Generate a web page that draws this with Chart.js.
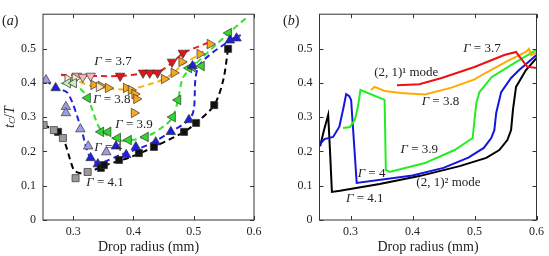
<!DOCTYPE html>
<html>
<head>
<meta charset="utf-8">
<script src="https://cdn.jsdelivr.net/npm/chart.js@4.4.0/dist/chart.umd.min.js"></script>
<style>
  html, body { margin: 0; padding: 0; background: #fff; }
  #wrap { position: relative; width: 549px; height: 256px; }
  canvas { position: absolute; top: 0; }
  #chartA { left: 0; }
  #chartB { left: 275px; }
</style>
</head>
<body>
<div id="wrap">
  <canvas id="chartA" width="275" height="256"></canvas>
  <canvas id="chartB" width="274" height="256"></canvas>
</div>
<script>
// tick labels (both panels)
const xTicks = [0.3, 0.4, 0.5, 0.6];
const yTicks = [0, 0.1, 0.2, 0.3, 0.4, 0.5];

// ---- panel (a): measured points + dashed guide lines ----
// Gamma = 3.7
const a37LineR = [0.28, 0.33, 0.38, 0.42, 0.44, 0.465, 0.483, 0.523];
const a37LineT = [0.423, 0.42, 0.42, 0.428, 0.43, 0.46, 0.487, 0.516];
const a37PaleR = [0.306, 0.316, 0.329];
const a37PaleT = [0.42, 0.417, 0.42];
const a37R = [0.378, 0.416, 0.427, 0.44, 0.464, 0.482];
const a37T = [0.42, 0.429, 0.429, 0.429, 0.461, 0.487];

// Gamma = 3.8
const a38LineR = [0.28, 0.305, 0.329, 0.363, 0.396, 0.429, 0.451, 0.467, 0.48, 0.51, 0.534];
const a38LineT = [0.426, 0.408, 0.391, 0.382, 0.382, 0.397, 0.411, 0.429, 0.452, 0.484, 0.522];
const a38PaleR = [0.291, 0.303, 0.343];
const a38PaleT = [0.411, 0.413, 0.388];
const a38R = [0.334, 0.346, 0.358, 0.388, 0.396, 0.402, 0.405, 0.401, 0.451, 0.467, 0.48, 0.51, 0.527];
const a38T = [0.394, 0.391, 0.385, 0.385, 0.379, 0.367, 0.353, 0.312, 0.411, 0.429, 0.461, 0.484, 0.513];

// Gamma = 3.9
const a39LineR = [0.28, 0.308, 0.324, 0.346, 0.374, 0.396, 0.424, 0.453, 0.465, 0.474, 0.482, 0.498, 0.558, 0.591];
const a39LineT = [0.399, 0.388, 0.356, 0.262, 0.233, 0.233, 0.245, 0.277, 0.3, 0.35, 0.414, 0.446, 0.545, 0.595];
const a39PaleR = [0.291, 0.301];
const a39PaleT = [0.399, 0.399];
const a39R = [0.324, 0.346, 0.358, 0.374, 0.392, 0.42, 0.465, 0.474, 0.492, 0.498, 0.513, 0.558];
const a39T = [0.356, 0.257, 0.257, 0.239, 0.233, 0.242, 0.3, 0.35, 0.443, 0.446, 0.449, 0.545];

// Gamma = 4
const a40LineR = [0.255, 0.271, 0.291, 0.313, 0.326, 0.341, 0.379, 0.424, 0.462, 0.492, 0.5, 0.508, 0.561, 0.578];
const a40LineT = [0.408, 0.385, 0.37, 0.268, 0.19, 0.166, 0.19, 0.219, 0.257, 0.292, 0.321, 0.446, 0.525, 0.539];
const a40PaleR = [0.255, 0.288, 0.288, 0.312, 0.325, 0.355];
const a40PaleT = [0.408, 0.33, 0.312, 0.265, 0.215, 0.198];
const a40R = [0.271, 0.329, 0.341, 0.371, 0.388, 0.404, 0.437, 0.462, 0.492, 0.498, 0.56, 0.571];
const a40T = [0.385, 0.181, 0.163, 0.215, 0.19, 0.213, 0.227, 0.257, 0.292, 0.449, 0.524, 0.53];

// Gamma = 4.1
const a41LineR = [0.251, 0.268, 0.283, 0.301, 0.31, 0.324, 0.346, 0.396, 0.434, 0.484, 0.504, 0.534, 0.549, 0.557];
const a41LineT = [0.277, 0.262, 0.239, 0.146, 0.137, 0.137, 0.155, 0.184, 0.213, 0.257, 0.283, 0.335, 0.408, 0.499];
const a41PaleR = [0.251, 0.268, 0.283, 0.304, 0.324];
const a41PaleT = [0.277, 0.262, 0.239, 0.122, 0.14];
const a41R = [0.275, 0.346, 0.351, 0.376, 0.409, 0.434, 0.484, 0.504, 0.534, 0.557];
const a41T = [0.257, 0.152, 0.16, 0.175, 0.195, 0.213, 0.257, 0.283, 0.335, 0.499];

// ---- panel (b): simulated curves ----
const b37R = [0.375, 0.411, 0.447, 0.5, 0.548, 0.567, 0.572, 0.585, 0.6];
const b37T = [0.393, 0.396, 0.414, 0.446, 0.481, 0.49, 0.478, 0.447, 0.443];
const b38R = [0.333, 0.339, 0.355, 0.381, 0.42, 0.463, 0.5, 0.519, 0.553, 0.583, 0.588, 0.591, 0.6];
const b38T = [0.379, 0.388, 0.376, 0.37, 0.366, 0.386, 0.41, 0.43, 0.463, 0.49, 0.499, 0.481, 0.488];
const b39R = [0.288, 0.299, 0.307, 0.312, 0.316, 0.355, 0.357, 0.363, 0.42, 0.468, 0.497, 0.5, 0.503, 0.508, 0.528, 0.572, 0.6];
const b39T = [0.268, 0.271, 0.292, 0.33, 0.379, 0.35, 0.146, 0.14, 0.166, 0.204, 0.239, 0.291, 0.341, 0.373, 0.417, 0.466, 0.496];
const b40R = [0.25, 0.258, 0.272, 0.282, 0.289, 0.293, 0.298, 0.301, 0.31, 0.4, 0.45, 0.49, 0.515, 0.527, 0.532, 0.535, 0.543, 0.559, 0.572, 0.6];
const b40T = [0.219, 0.236, 0.242, 0.272, 0.33, 0.367, 0.361, 0.35, 0.108, 0.13, 0.152, 0.182, 0.21, 0.239, 0.262, 0.312, 0.373, 0.414, 0.437, 0.481];
const b41R = [0.251, 0.257, 0.264, 0.267, 0.27, 0.283, 0.347, 0.411, 0.476, 0.519, 0.54, 0.553, 0.559, 0.562, 0.567, 0.583, 0.6];
const b41T = [0.215, 0.26, 0.306, 0.2, 0.082, 0.085, 0.105, 0.128, 0.157, 0.181, 0.204, 0.233, 0.262, 0.321, 0.388, 0.437, 0.472];

const serif = 'Liberation Serif';
const zip = (xs, ys) => xs.map((v, i) => ({ x: v, y: ys[i] }));

function guide(xs, ys, color, solid) {
  return {
    data: zip(xs, ys), showLine: true, borderColor: color, borderWidth: 2,
    borderDash: solid ? [] : [6, 4], pointRadius: 0, tension: solid ? 0 : 0.3, order: 2
  };
}
function marks(xs, ys, fill, style, rot, r) {
  return {
    data: zip(xs, ys), showLine: false, pointStyle: style, rotation: rot,
    pointRadius: r, pointBackgroundColor: fill, pointBorderColor: '#333',
    pointBorderWidth: 0.7, order: 1
  };
}

function drawGammaLabel(ctx, x, y, txt) {
  ctx.font = 'italic 13px ' + serif;
  const g = ctx.measureText('\u0393').width;
  ctx.font = '13px ' + serif;
  const w = g + ctx.measureText(txt).width;
  ctx.textBaseline = 'middle';
  ctx.textAlign = 'left';
  ctx.font = 'italic 13px ' + serif;
  ctx.fillText('\u0393', x - w / 2, y);
  ctx.font = '13px ' + serif;
  ctx.fillText(txt, x - w / 2 + g, y);
}

const framePlugin = {
  id: 'frame',
  afterDraw(chart, args, opts) {
    const { ctx, chartArea: a, scales: { x, y } } = chart;
    ctx.save();
    ctx.strokeStyle = '#333';
    ctx.lineWidth = 1;
    ctx.strokeRect(a.left, a.top, a.right - a.left, a.bottom - a.top);
    ctx.beginPath();
    x.ticks.forEach(t => {
      const p = Math.round(x.getPixelForValue(t.value)) + 0.5;
      ctx.moveTo(p, a.bottom); ctx.lineTo(p, a.bottom - 4);
      ctx.moveTo(p, a.top); ctx.lineTo(p, a.top + 4);
    });
    y.ticks.forEach(t => {
      const p = Math.round(y.getPixelForValue(t.value)) + 0.5;
      ctx.moveTo(a.left, p); ctx.lineTo(a.left + 4, p);
      ctx.moveTo(a.right, p); ctx.lineTo(a.right - 4, p);
    });
    ctx.stroke();

    ctx.fillStyle = '#222';
    (opts.labels || []).forEach(l => {
      const px = x.getPixelForValue(l.r), py = y.getPixelForValue(l.t);
      if (l.gamma) {
        drawGammaLabel(ctx, px, py, l.text);
      } else {
        ctx.font = '13px ' + serif;
        ctx.textAlign = 'center';
        ctx.textBaseline = 'middle';
        ctx.fillText(l.text, px, py);
      }
    });

    // panel letter
    ctx.textBaseline = 'middle';
    ctx.textAlign = 'left';
    let lx = opts.letterX;
    ctx.font = '14px ' + serif;
    ctx.fillText('(', lx, 21); lx += ctx.measureText('(').width;
    ctx.font = 'italic 14px ' + serif;
    ctx.fillText(opts.letter, lx, 21); lx += ctx.measureText(opts.letter).width;
    ctx.font = '14px ' + serif;
    ctx.fillText(')', lx, 21);

    if (opts.yTitle) {
      ctx.translate(10, (a.top + a.bottom) / 2);
      ctx.rotate(-Math.PI / 2);
      const parts = [['italic 14px ', 't', 0], ['italic 9px ', 'C', 3], ['14px ', '/', 0], ['italic 14px ', 'T', 0]];
      let total = 0;
      parts.forEach(p => { ctx.font = p[0] + serif; total += ctx.measureText(p[1]).width; });
      let cx = -total / 2;
      parts.forEach(p => {
        ctx.font = p[0] + serif;
        ctx.fillText(p[1], cx, p[2]);
        cx += ctx.measureText(p[1]).width;
      });
    }
    ctx.restore();
  }
};

function makeOptions(yWidth, rightPad, frameOpts) {
  const tickFont = { family: serif, size: 12 };
  return {
    responsive: false,
    animation: false,
    layout: { padding: { top: 14, right: rightPad, left: 0, bottom: 0 } },
    plugins: { legend: { display: false }, tooltip: { enabled: false }, frame: frameOpts },
    scales: {
      x: {
        type: 'linear', min: 0.25, max: 0.6,
        afterBuildTicks: s => { s.ticks = xTicks.map(v => ({ value: v })); },
        afterFit: s => { s.height = 36; },
        grid: { display: false, drawTicks: false },
        border: { display: false },
        ticks: { padding: 5, color: '#222', font: tickFont, callback: v => String(v) },
        title: { display: true, text: 'Drop radius (mm)', color: '#222',
                 font: { family: serif, size: 14 }, padding: { top: 0, bottom: 0 } }
      },
      y: {
        type: 'linear', min: 0, max: 0.6,
        afterBuildTicks: s => { s.ticks = yTicks.map(v => ({ value: v })); },
        afterFit: s => { s.width = yWidth; },
        grid: { display: false, drawTicks: false },
        border: { display: false },
        ticks: { padding: 7, color: '#222', font: tickFont, callback: v => String(v) }
      }
    }
  };
}

new Chart(document.getElementById('chartA'), {
  type: 'scatter',
  data: {
    datasets: [
      marks(a41PaleR, a41PaleT, '#9a9a9a', 'rect', 0, 5),
      marks(a41R, a41T, '#111111', 'rect', 0, 5),
      marks(a40PaleR, a40PaleT, '#9d9de6', 'triangle', 0, 5.5),
      marks(a40R, a40T, '#1e1ee6', 'triangle', 0, 5.5),
      marks(a39PaleR, a39PaleT, '#c4f0c4', 'triangle', 270, 5.5),
      marks(a39R, a39T, '#2fd82f', 'triangle', 270, 5.5),
      marks(a38PaleR, a38PaleT, '#fde6bf', 'triangle', 90, 5.5),
      marks(a38R, a38T, '#f5a820', 'triangle', 90, 5.5),
      marks(a37PaleR, a37PaleT, '#f4baba', 'triangle', 180, 5.5),
      marks(a37R, a37T, '#e81414', 'triangle', 180, 5.5),
      guide(a37LineR, a37LineT, '#e62020'),
      guide(a38LineR, a38LineT, '#f7b21a'),
      guide(a39LineR, a39LineT, '#33e033'),
      guide(a40LineR, a40LineT, '#1f1fe0'),
      guide(a41LineR, a41LineT, '#000000')
    ]
  },
  options: makeOptions(43, 21, {
    letter: 'a', letterX: 2, yTitle: true,
    labels: [
      { gamma: true, text: ' = 3.7', r: 0.366, t: 0.461 },
      { gamma: true, text: ' = 3.8', r: 0.364, t: 0.35 },
      { gamma: true, text: ' = 3.9', r: 0.401, t: 0.277 },
      { gamma: true, text: ' = 4', r: 0.358, t: 0.21 },
      { gamma: true, text: ' = 4.1', r: 0.353, t: 0.108 }
    ]
  }),
  plugins: [framePlugin]
});

new Chart(document.getElementById('chartB'), {
  type: 'scatter',
  data: {
    datasets: [
      guide(b37R, b37T, '#ee1111', true),
      guide(b38R, b38T, '#ffaa00', true),
      guide(b39R, b39T, '#22ee22', true),
      guide(b40R, b40T, '#1515e0', true),
      guide(b41R, b41T, '#000000', true)
    ]
  },
  options: makeOptions(44.5, 11, {
    letter: 'b', letterX: 8, yTitle: false,
    labels: [
      { gamma: true, text: ' = 3.7', r: 0.512, t: 0.501 },
      { gamma: false, text: '(2, 1)\u00B9 mode', r: 0.39, t: 0.429 },
      { gamma: true, text: ' = 3.8', r: 0.445, t: 0.344 },
      { gamma: true, text: ' = 3.9', r: 0.411, t: 0.204 },
      { gamma: true, text: ' = 4', r: 0.334, t: 0.134 },
      { gamma: false, text: '(2, 1)\u00B2 mode', r: 0.458, t: 0.108 },
      { gamma: true, text: ' = 4.1', r: 0.323, t: 0.061 }
    ]
  }),
  plugins: [framePlugin]
});
</script>
</body>
</html>
